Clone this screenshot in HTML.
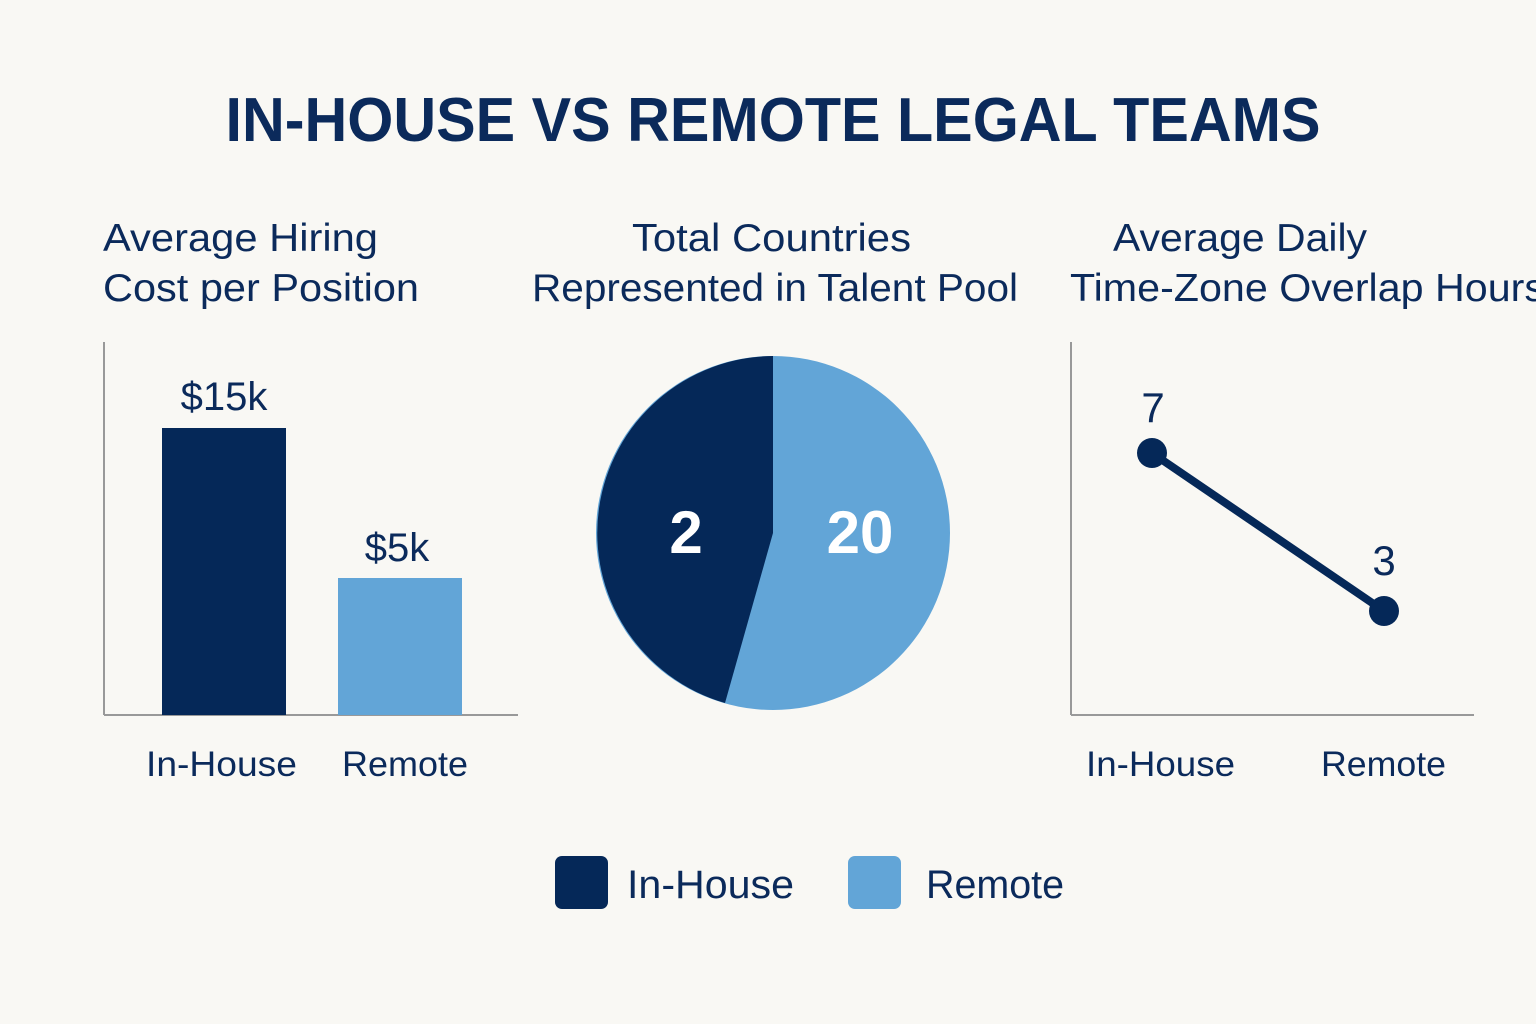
<!DOCTYPE html>
<html><head><meta charset="utf-8"><style>
html,body{margin:0;padding:0;background:#f9f8f4;}
svg{display:block;}
text{font-family:"Liberation Sans",sans-serif;fill:#0b2a5b;}
</style></head><body>
<svg width="1536" height="1024" viewBox="0 0 1536 1024" xmlns="http://www.w3.org/2000/svg">
<rect width="1536" height="1024" fill="#f9f8f4"/>
<text x="773" y="141" font-size="62" font-weight="bold" text-anchor="middle" textLength="1095" lengthAdjust="spacingAndGlyphs">IN-HOUSE VS REMOTE LEGAL TEAMS</text>

<g font-size="39">
<text x="103" y="251" textLength="275" lengthAdjust="spacingAndGlyphs">Average Hiring</text>
<text x="103" y="301" textLength="316" lengthAdjust="spacingAndGlyphs">Cost per Position</text>
<text x="632" y="251" textLength="279" lengthAdjust="spacingAndGlyphs">Total Countries</text>
<text x="532" y="301" textLength="486" lengthAdjust="spacingAndGlyphs">Represented in Talent Pool</text>
<text x="1113" y="251" textLength="254" lengthAdjust="spacingAndGlyphs">Average Daily</text>
<text x="1070" y="301" textLength="475" lengthAdjust="spacingAndGlyphs">Time-Zone Overlap Hours</text>
</g>

<!-- bar chart -->
<line x1="104" y1="342" x2="104" y2="715" stroke="#999" stroke-width="2"/>
<line x1="104" y1="715" x2="518" y2="715" stroke="#999" stroke-width="2"/>
<rect x="162" y="428" width="124" height="287" fill="#052858"/>
<rect x="338" y="578" width="124" height="137" fill="#62a5d7"/>
<text x="224" y="410" font-size="40" text-anchor="middle">$15k</text>
<text x="397" y="561" font-size="40" text-anchor="middle">$5k</text>
<text x="146" y="776" font-size="35" textLength="151" lengthAdjust="spacingAndGlyphs">In-House</text>
<text x="342" y="776" font-size="35" textLength="126" lengthAdjust="spacingAndGlyphs">Remote</text>

<!-- pie -->
<circle cx="773" cy="533" r="177" fill="#62a5d7"/>
<path d="M773,533 L773,356 A177,177 0 0 0 725,703 Z" fill="#052858"/>
<text x="686" y="553" font-size="60" font-weight="bold" text-anchor="middle" style="fill:#fff">2</text>
<text x="860" y="553" font-size="60" font-weight="bold" text-anchor="middle" style="fill:#fff">20</text>

<!-- line chart -->
<line x1="1071" y1="342" x2="1071" y2="715" stroke="#999" stroke-width="2"/>
<line x1="1071" y1="715" x2="1474" y2="715" stroke="#999" stroke-width="2"/>
<line x1="1152" y1="453" x2="1384" y2="611" stroke="#052858" stroke-width="8"/>
<circle cx="1152" cy="453" r="15" fill="#052858"/>
<circle cx="1384" cy="611" r="15" fill="#052858"/>
<text x="1153" y="422" font-size="42" text-anchor="middle">7</text>
<text x="1384" y="575" font-size="42" text-anchor="middle">3</text>
<text x="1086" y="776" font-size="35" textLength="149" lengthAdjust="spacingAndGlyphs">In-House</text>
<text x="1321" y="776" font-size="35" textLength="125" lengthAdjust="spacingAndGlyphs">Remote</text>

<!-- legend -->
<rect x="555" y="856" width="53" height="53" rx="7" fill="#052858"/>
<text x="627" y="898" font-size="40" textLength="167" lengthAdjust="spacingAndGlyphs">In-House</text>
<rect x="848" y="856" width="53" height="53" rx="7" fill="#62a5d7"/>
<text x="926" y="898" font-size="40" textLength="138" lengthAdjust="spacingAndGlyphs">Remote</text>
</svg>
</body></html>
